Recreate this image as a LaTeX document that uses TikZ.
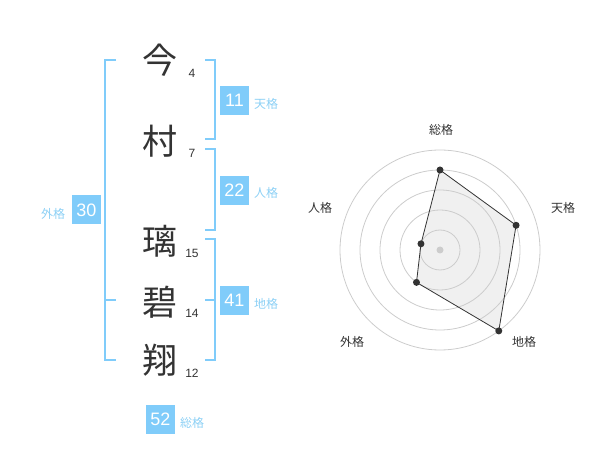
\documentclass[tikz,border=0pt]{standalone}
\usepackage{fontspec}
\setmainfont{Liberation Sans}
\newfontfamily\cjk{Noto Sans CJK JP}
\usetikzlibrary{calc}
\definecolor{kakublue}{RGB}{128,204,250}
\definecolor{kakutext}{RGB}{140,208,245}
\definecolor{ink}{RGB}{51,51,51}

\begin{document}
\begin{tikzpicture}[x=1pt,y=-1pt]
					\tikzstyle{kanji}=[text=ink,font=\cjk\fontsize{35}{35}\selectfont,inner sep=0pt]
					\tikzstyle{count}=[text=ink,font=\fontsize{12}{12}\selectfont,inner sep=0pt]
					\tikzstyle{score}=[fill=kakublue,text=white,minimum size=29pt,inner sep=0pt,font=\fontsize{18}{18}\selectfont]
					\tikzstyle{kaku}=[text=kakutext,font=\cjk\fontsize{12}{12}\selectfont,inner sep=0pt]
					\tikzstyle{bracket}=[draw=kakublue,line width=2pt]
					\tikzstyle{ring}=[draw=black!20,line width=0.8pt]
					\tikzstyle{dot}=[circle,fill=ink,minimum size=7pt,inner sep=0pt]
					\tikzstyle{axis}=[text=ink,font=\cjk\fontsize{12}{12}\selectfont,inner sep=0pt]
					\useasboundingbox (0,0) rectangle (600,470);
					% name
					\node[kanji] (k1) at (160,60) {今};
					\node[kanji] (k2) at (160,141) {村};
					\node[kanji] (k3) at (160,241) {璃};
					\node[kanji] (k4) at (160,302) {碧};
					\node[kanji] (k5) at (160,360) {翔};
					\node[count] (n1) at (192,73) {4};
					\node[count] (n2) at (192,153) {7};
					\node[count] (n3) at (192,253) {15};
					\node[count] (n4) at (192,313) {14};
					\node[count] (n5) at (192,373) {12};
					% brackets
					\draw[bracket] (116,60) -- (105,60) -- (105,360) -- (116,360);
					\draw[bracket] (105,300) -- (116,300);
					\draw[bracket] (205,60) -- (215,60) -- (215,139) -- (205,139);
					\draw[bracket] (205,149) -- (215,149) -- (215,230) -- (205,230);
					\draw[bracket] (205,239) -- (215,239) -- (215,360) -- (205,360);
					\draw[bracket] (205,300) -- (215,300);
					% scores
					\node[score] (ten) at (234.5,100.5) {11};
					\node[score] (jin) at (234.5,190.5) {22};
					\node[score] (gai) at (86.5,210) {30};
					\node[score] (chi) at (234.5,300.5) {41};
					\node[score] (sou) at (160.5,419.5) {52};
					\node[kaku] (tenl) at (266,104) {天格};
					\node[kaku] (jinl) at (266,193) {人格};
					\node[kaku] (gail) at (53,214) {外格};
					\node[kaku] (chil) at (266,304) {地格};
					\node[kaku] (soul) at (192,423) {総格};
					% radar
					\coordinate (c) at (440,250);
					\coordinate (ps) at ($(c)+(-90:80)$);
					\coordinate (pt) at ($(c)+(-18:80)$);
					\coordinate (pc) at ($(c)+(54:100)$);
					\coordinate (pg) at ($(c)+(126:40)$);
					\coordinate (pj) at ($(c)+(-162:20)$);
					\fill[black!6] (ps) -- (pt) -- (pc) -- (pg) -- (pj) -- cycle;
					\foreach \r in {20,40,60,80,100}
						\draw[ring] (c) circle (\r);
					\node[circle,fill=black!20,minimum size=7pt,inner sep=0pt] (mid) at (c) {};
					\node[dot] (ds) at (ps) {};
					\node[dot] (dt) at (pt) {};
					\node[dot] (dc) at (pc) {};
					\node[dot] (dg) at (pg) {};
					\node[dot] (dj) at (pj) {};
					\draw[ink,line width=0.8pt] (ds.center) -- (dt.center) -- (dc.center) -- (dg.center) -- (dj.center) -- cycle;
					\node[axis] (as) at (441,130) {総格};
					\node[axis] (at) at (563,208) {天格};
					\node[axis] (aj) at (320,208) {人格};
					\node[axis] (ag) at (352,342) {外格};
					\node[axis] (ac) at (524,342) {地格};
\end{tikzpicture}
\end{document}
